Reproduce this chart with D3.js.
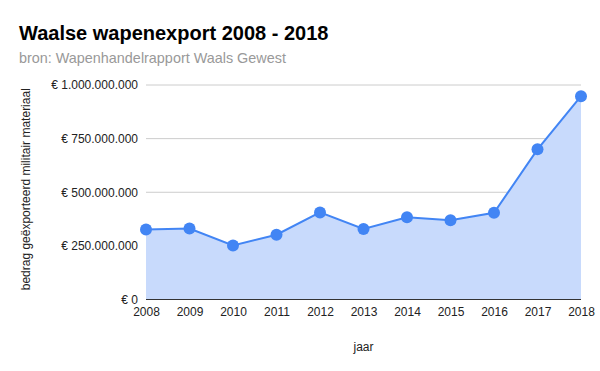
<!DOCTYPE html>
<html>
<head>
<meta charset="utf-8">
<script src="https://cdn.jsdelivr.net/npm/d3@7"></script>
<style>
  body { margin: 0; background: #fff; }
  svg { font-family: "Liberation Sans", Arial, sans-serif; display: block; }
  .grid line { stroke: #ccc; }
</style>
</head>
<body>
<div id="chart"></div>
<script>
const years = [2008, 2009, 2010, 2011, 2012, 2013, 2014, 2015, 2016, 2017, 2018];
const exportValues = [326000000, 331000000, 252000000, 302000000, 406000000, 329000000,
                      383000000, 370000000, 404000000, 700000000, 948000000];
const yTicks = [0, 250000000, 500000000, 750000000, 1000000000];

const width = 600, height = 371;
const margin = { top: 85, right: 19, bottom: 71.5, left: 146 };
const innerWidth = width - margin.left - margin.right;
const innerHeight = height - margin.top - margin.bottom;

const data = years.map((y, i) => ({ year: y, value: exportValues[i] }));

const euro = d => "€ " + d3.format(",")(d).replace(/,/g, ".");

const svg = d3.select("#chart")
    .append("svg")
    .attr("width", width)
    .attr("height", height);

// title
svg.append("text")
    .attr("x", 19)
    .attr("y", 40)
    .style("font-size", "20px")
    .style("font-weight", "bold")
    .attr("fill", "#000")
    .text("Waalse wapenexport 2008 - 2018");

svg.append("text")
    .attr("x", 19)
    .attr("y", 63)
    .style("font-size", "14.4px")
    .attr("fill", "#999")
    .text("bron: Wapenhandelrapport Waals Gewest");

const inner = svg.append("g")
    .attr("transform", `translate(${margin.left},${margin.top})`);

// scales
const xScale = d3.scaleLinear()
    .domain(d3.extent(years))
    .range([0, innerWidth]);

const yScale = d3.scaleLinear()
    .domain([0, 1000000000])
    .range([innerHeight, 0]);

// gridlines
inner.append("g")
    .attr("class", "grid")
    .selectAll("line")
    .data(yTicks.slice(1))
    .join("line")
    .attr("x1", 0)
    .attr("x2", innerWidth)
    .attr("y1", d => yScale(d))
    .attr("y2", d => yScale(d));

// area
inner.append("path")
    .datum(data)
    .attr("fill", "#c8dafc")
    .attr("d", d3.area()
        .x(d => xScale(d.year))
        .y0(innerHeight)
        .y1(d => yScale(d.value)));

// line
inner.append("path")
    .datum(data)
    .attr("fill", "none")
    .attr("stroke", "#4285f4")
    .attr("stroke-width", 2)
    .attr("d", d3.line()
        .x(d => xScale(d.year))
        .y(d => yScale(d.value)));

// baseline
inner.append("line")
    .attr("x1", 0)
    .attr("x2", innerWidth)
    .attr("y1", innerHeight)
    .attr("y2", innerHeight)
    .attr("stroke", "#333")
    .attr("stroke-width", 1);

// points
inner.selectAll("circle")
    .data(data)
    .join("circle")
    .attr("cx", d => xScale(d.year))
    .attr("cy", d => yScale(d.value))
    .attr("r", 6)
    .attr("fill", "#4285f4");

// y-axis
const yAxis = inner.append("g")
    .call(d3.axisLeft(yScale).tickValues(yTicks).tickFormat(euro).tickSize(0).tickPadding(8));
yAxis.select(".domain").remove();
yAxis.selectAll("text")
    .style("font-family", "'Liberation Sans', Arial, sans-serif")
    .style("font-size", "12px")
    .attr("fill", "#222");

// x-axis
const xAxis = inner.append("g")
    .attr("transform", `translate(0,${innerHeight})`)
    .call(d3.axisBottom(xScale).tickValues(years).tickFormat(d3.format("d")).tickSize(0).tickPadding(8));
xAxis.select(".domain").remove();
xAxis.selectAll("text")
    .style("font-family", "'Liberation Sans', Arial, sans-serif")
    .style("font-size", "12px")
    .attr("fill", "#222");

// x label
svg.append("text")
    .attr("x", margin.left + innerWidth / 2)
    .attr("y", 351)
    .attr("text-anchor", "middle")
    .style("font-size", "12px")
    .attr("fill", "#222")
    .text("jaar");

// y label
svg.append("text")
    .attr("transform", "rotate(-90)")
    .attr("x", -(margin.top + innerHeight / 2) + 3)
    .attr("y", 30)
    .attr("text-anchor", "middle")
    .style("font-size", "12px")
    .attr("fill", "#222")
    .text("bedrag geëxporteerd militair materiaal");
</script>
</body>
</html>
